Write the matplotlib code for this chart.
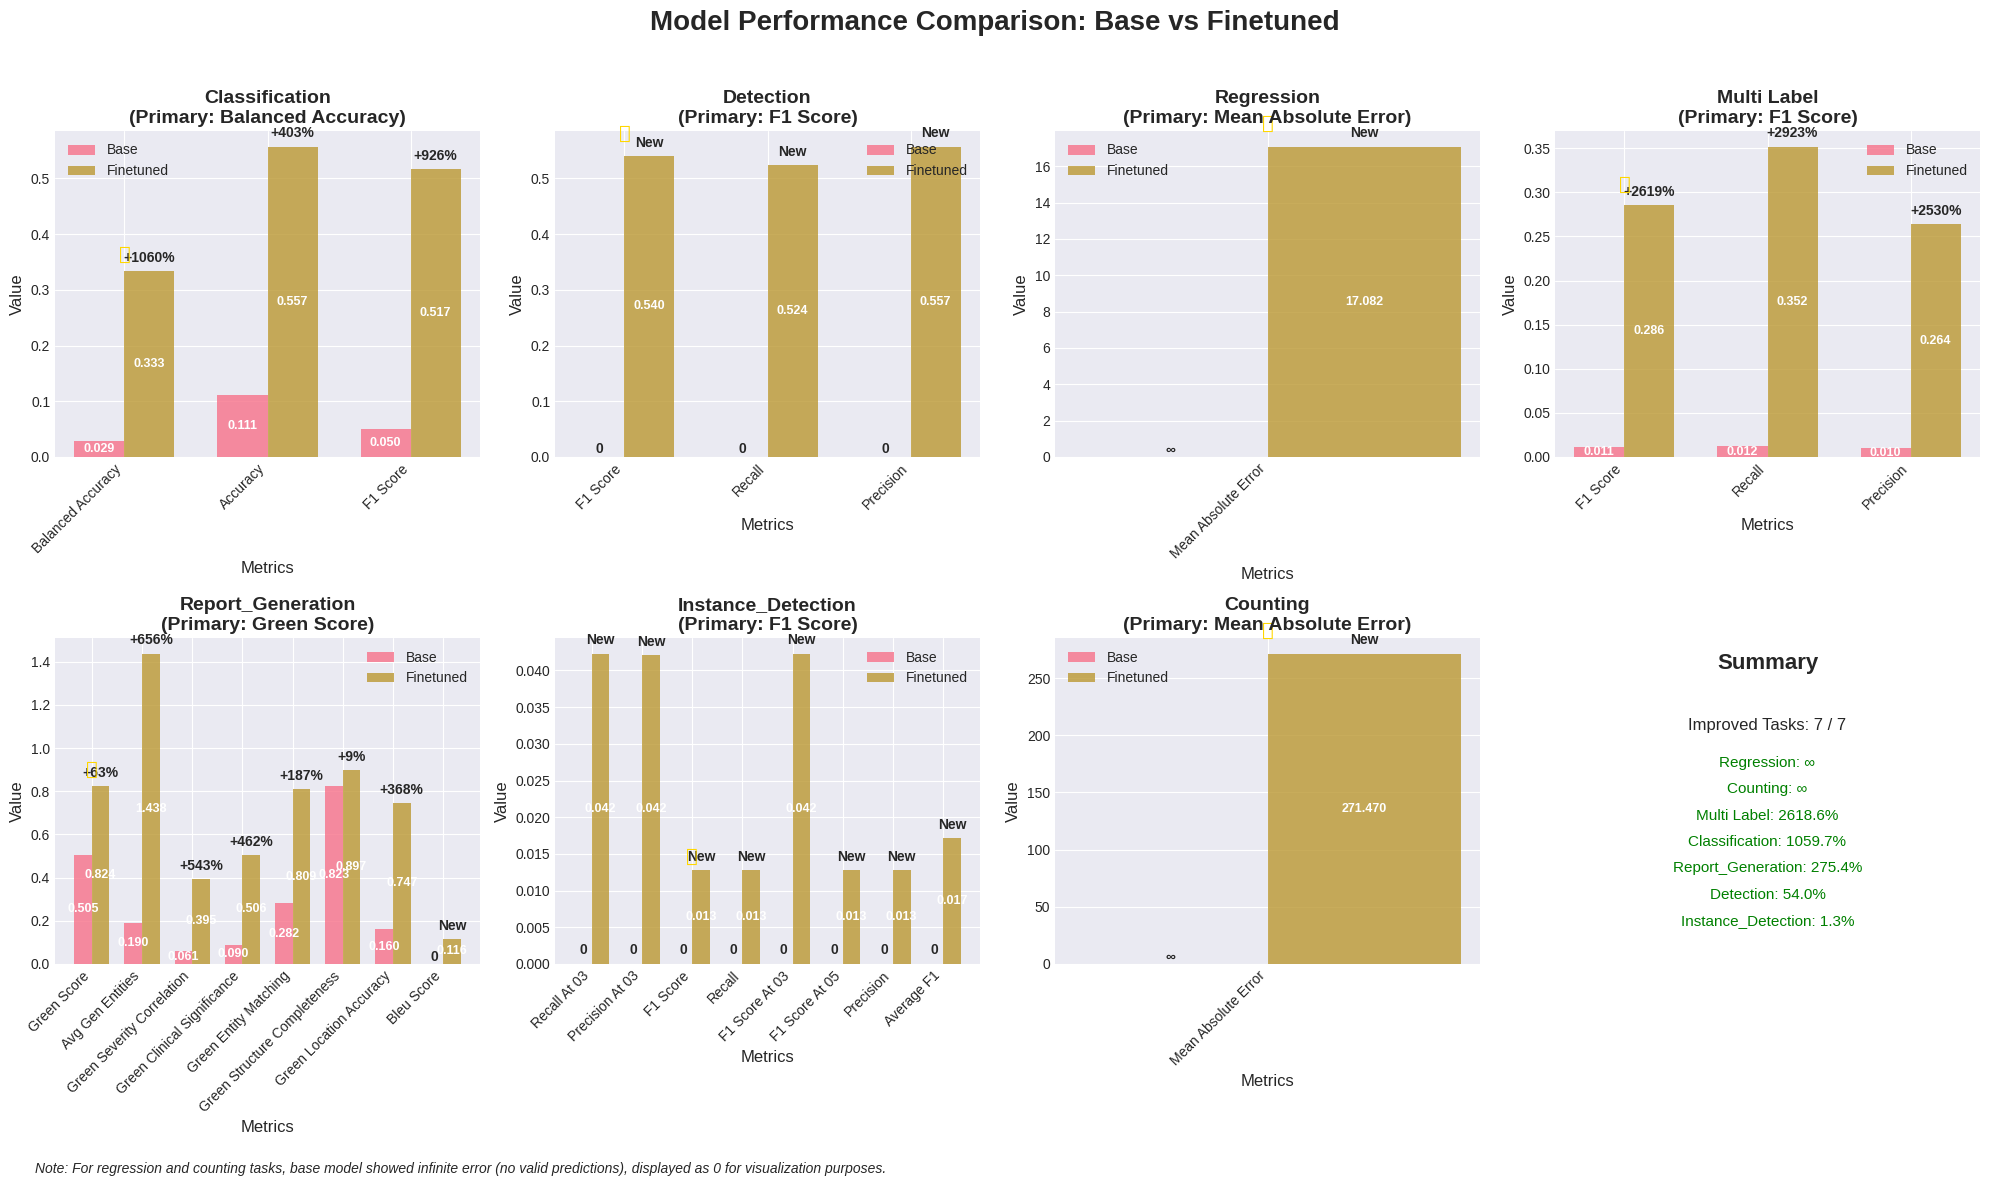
import numpy as np
import matplotlib
matplotlib.use("Agg")
import matplotlib.pyplot as plt

plt.style.use("seaborn-v0_8-darkgrid")
plt.rcParams['font.family'] = ['Liberation Sans']

BASE_COLOR = "#f77189"
FINE_COLOR = "#bb9832"

# task data, same order as the panels
tasks = ["Classification", "Detection", "Regression", "Multi Label",
         "Report_Generation", "Instance_Detection", "Counting"]
primary = ["Balanced Accuracy", "F1 Score", "Mean Absolute Error", "F1 Score",
           "Green Score", "F1 Score", "Mean Absolute Error"]

metrics_cls = ["Balanced Accuracy", "Accuracy", "F1 Score"]
base_cls = [0.029, 0.111, 0.050]
fine_cls = [0.333, 0.557, 0.517]
gain_cls = ["+1060%", "+403%", "+926%"]

metrics_det = ["F1 Score", "Recall", "Precision"]
base_det = [0, 0, 0]
fine_det = [0.540, 0.524, 0.557]
gain_det = ["New", "New", "New"]

metrics_reg = ["Mean Absolute Error"]
base_reg = [0]
fine_reg = [17.082]
gain_reg = ["New"]

metrics_ml = ["F1 Score", "Recall", "Precision"]
base_ml = [0.011, 0.012, 0.010]
fine_ml = [0.286, 0.352, 0.264]
gain_ml = ["+2619%", "+2923%", "+2530%"]

metrics_rep = ["Green Score", "Avg Gen Entities", "Green Severity Correlation",
               "Green Clinical Significance", "Green Entity Matching",
               "Green Structure Completeness", "Green Location Accuracy", "Bleu Score"]
base_rep = [0.505, 0.190, 0.061, 0.090, 0.282, 0.823, 0.160, 0]
fine_rep = [0.824, 1.438, 0.395, 0.506, 0.809, 0.897, 0.747, 0.116]
gain_rep = ["+63%", "+656%", "+543%", "+462%", "+187%", "+9%", "+368%", "New"]

metrics_inst = ["Recall At 03", "Precision At 03", "F1 Score", "Recall",
                "F1 Score At 03", "F1 Score At 05", "Precision", "Average F1"]
base_inst = [0, 0, 0, 0, 0, 0, 0, 0]
fine_inst = [0.0423, 0.0421, 0.0128, 0.0128, 0.0423, 0.0128, 0.0128, 0.0171]
gain_inst = ["New"] * 8
# index of the primary metric in this panel
star_inst = 2

metrics_cnt = ["Mean Absolute Error"]
base_cnt = [0]
fine_cnt = [271.470]
gain_cnt = ["New"]

all_metrics = [metrics_cls, metrics_det, metrics_reg, metrics_ml, metrics_rep, metrics_inst, metrics_cnt]
all_base = [base_cls, base_det, base_reg, base_ml, base_rep, base_inst, base_cnt]
all_fine = [fine_cls, fine_det, fine_reg, fine_ml, fine_rep, fine_inst, fine_cnt]
all_gain = [gain_cls, gain_det, gain_reg, gain_ml, gain_rep, gain_inst, gain_cnt]
star_idx = [0, 0, 0, 0, 0, star_inst, 0]
legend_loc = ["upper left", "upper right", "upper left", "upper right",
              "upper right", "upper right", "upper left"]

summary_lines = ["Regression: ∞", "Counting: ∞", "Multi Label: 2618.6%",
                 "Classification: 1059.7%", "Report_Generation: 275.4%",
                 "Detection: 54.0%", "Instance_Detection: 1.3%"]

W, H = 1989, 1187
fig, axes = plt.subplots(2, 4, figsize=(W / 100, H / 100), dpi=100)
fig.subplots_adjust(left=55 / W, right=1980 / W, top=1 - 131 / H, bottom=1 - 964 / H,
                    wspace=75 / 425, hspace=181 / 326)
axes = axes.flatten()
fig.suptitle("Model Performance Comparison: Base vs Finetuned", fontsize=20,
             fontweight="bold", x=0.5, y=1 - 23.5 / H, va="center")

width = 0.35
for k, task in enumerate(tasks):
    ax = axes[k]
    names = all_metrics[k]
    base = all_base[k]
    fine = all_fine[k]
    x = np.arange(len(names))
    ax.bar(x - width / 2, base, width, label="Base", color=BASE_COLOR, alpha=0.8)
    ax.bar(x + width / 2, fine, width, label="Finetuned", color=FINE_COLOR, alpha=0.8)
    top = max(fine)
    zero_mark = "∞" if task in ("Regression", "Counting") else "0"
    for i in range(len(names)):
        if base[i] > 0:
            ax.text(x[i] - width / 2, base[i] / 2, f"{base[i]:.3f}", ha="center", va="center",
                    color="white", fontweight="bold", fontsize=9)
        else:
            ax.text(x[i] - width / 2, 0.001, zero_mark, ha="center", va="bottom",
                    color=".15", fontweight="bold", fontsize=10)
        ax.text(x[i] + width / 2, fine[i] / 2, f"{fine[i]:.3f}", ha="center", va="center",
                color="white", fontweight="bold", fontsize=9)
        ax.text(x[i] + width / 2, fine[i] + top * 0.02, all_gain[k][i], ha="center", va="bottom",
                color=".15", fontweight="bold", fontsize=10)
    s = star_idx[k]
    # primary metric marker
    ax.text(x[s], fine[s] * 1.045 + top * 0.029, "⭐", ha="center", va="center", color="gold",
            fontsize=14, family=["DejaVu Sans"])
    ax.set_xticks(x)
    ax.set_xticklabels(names, rotation=45, ha="right")
    ax.set_xlabel("Metrics", fontsize=12)
    ax.set_ylabel("Value", fontsize=12)
    ax.set_title(f"{task}\n(Primary: {primary[k]})", fontsize=14, fontweight="bold")
    ax.legend(loc=legend_loc[k])

ax = axes[7]
ax.axis("off")
ax.text(0.5, 0.923, "Summary", ha="center", va="center", fontsize=16, fontweight="bold",
        transform=ax.transAxes)
ax.text(0.5, 0.733, "Improved Tasks: 7 / 7", ha="center", va="center", fontsize=12,
        transform=ax.transAxes)
for i, line in enumerate(summary_lines):
    ax.text(0.5, 0.617 - 0.081 * i, line, ha="center", va="center", fontsize=11, color="green",
            transform=ax.transAxes)

fig.text(35 / W, 1 - 1169 / H, "Note: For regression and counting tasks, base model showed infinite error "
         "(no valid predictions), displayed as 0 for visualization purposes.",
         fontsize=10, style="italic", va="center")

plt.savefig("out.png", dpi=100)
